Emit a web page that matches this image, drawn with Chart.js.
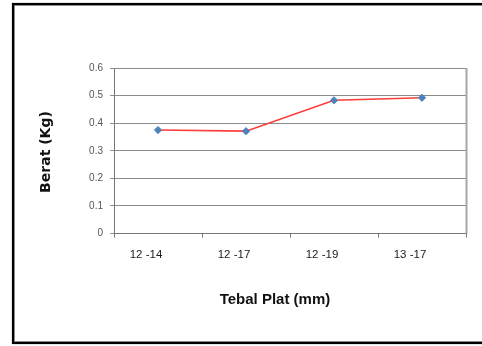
<!DOCTYPE html>
<html>
<head>
<meta charset="utf-8">
<script src="https://cdn.jsdelivr.net/npm/chart.js@4/dist/chart.umd.min.js"></script>
<style>
  html, body { margin: 0; padding: 0; background: #fff; }
  canvas { display: block; }
</style>
</head>
<body>
<canvas id="c" width="482" height="346"></canvas>
<script>
// Weight per plate-thickness pair
const categories = ['12 -14', '12 -17', '12 -19', '13 -17'];
const berat = [0.375, 0.371, 0.483, 0.492];
const yTicks = [0, 0.1, 0.2, 0.3, 0.4, 0.5, 0.6];

const xTitle = 'Tebal Plat (mm)';
const yTitle = 'Berat (Kg)';

// Outer frame, plot-area right edge and the two axis titles
const decor = {
  id: 'decor',
  beforeDraw(chart) {
    const ctx = chart.ctx;
    ctx.save();
    ctx.fillStyle = '#fff';
    ctx.fillRect(0, 0, chart.width, chart.height);
    ctx.restore();
  },
  afterDraw(chart) {
    const ctx = chart.ctx;
    const a = chart.chartArea;
    ctx.save();
    // plot-area right edge
    ctx.strokeStyle = '#a6a6a6';
    ctx.lineWidth = 2;
    ctx.beginPath();
    ctx.moveTo(a.right + 0.5, a.top);
    ctx.lineTo(a.right + 0.5, a.bottom);
    ctx.stroke();
    // outer frame
    ctx.strokeStyle = '#9a9a9a';
    ctx.lineWidth = 1;
    ctx.strokeRect(14.5, 5.5, 480, 336);
    ctx.strokeStyle = '#000';
    ctx.lineWidth = 2.2;
    ctx.strokeRect(13, 4, 490, 339);
    // axis titles
    ctx.fillStyle = '#111';
    ctx.font = 'bold 15px "Liberation Sans", Arial, sans-serif';
    ctx.textAlign = 'center';
    ctx.textBaseline = 'middle';
    ctx.fillText(xTitle, 275, 300);
    ctx.translate(46, 152);
    ctx.rotate(-Math.PI / 2);
    ctx.font = 'bold 14px "DejaVu Sans", sans-serif';
    ctx.fillText(yTitle, 0, 0);
    ctx.restore();
  }
};

new Chart(document.getElementById('c'), {
  type: 'line',
  data: {
    labels: categories,
    datasets: [{
      data: berat,
      borderColor: '#ff3b3b',
      borderWidth: 1.6,
      pointStyle: 'rectRot',
      pointRadius: 3.6,
      pointBackgroundColor: '#4f81bd',
      pointBorderColor: '#4f81bd',
      pointBorderWidth: 1,
      tension: 0,
      fill: false
    }]
  },
  options: {
    responsive: false,
    animation: false,
    events: [],
    layout: { padding: { left: 0, right: 16, top: 68, bottom: 0 } },
    plugins: { legend: { display: false }, tooltip: { enabled: false } },
    scales: {
      x: {
        type: 'category',
        offset: true,
        afterFit(s) { s.height = 112.5; },
        grid: {
          offset: true,
          drawOnChartArea: false,
          drawTicks: true,
          tickLength: 4,
          color: '#777'
        },
        border: { color: '#777', width: 1 },
        ticks: {
          color: '#1a1a1a',
          font: { family: '"Liberation Sans", Arial, sans-serif', size: 11.5 },
          padding: 10,
          labelOffset: -12,
          maxRotation: 0,
          autoSkip: false
        }
      },
      y: {
        min: 0,
        max: 0.6,
        afterFit(s) { s.width = 114; },
        afterBuildTicks(s) { s.ticks = yTicks.map(v => ({ value: v })); },
        grid: {
          color: '#8c8c8c',
          lineWidth: 1,
          drawTicks: true,
          tickLength: 4
        },
        border: { color: '#777', width: 1 },
        ticks: {
          color: '#555',
          font: { family: '"Liberation Sans", Arial, sans-serif', size: 10 },
          padding: 7,
          callback: v => String(v)
        }
      }
    }
  },
  plugins: [decor]
});
</script>
</body>
</html>
